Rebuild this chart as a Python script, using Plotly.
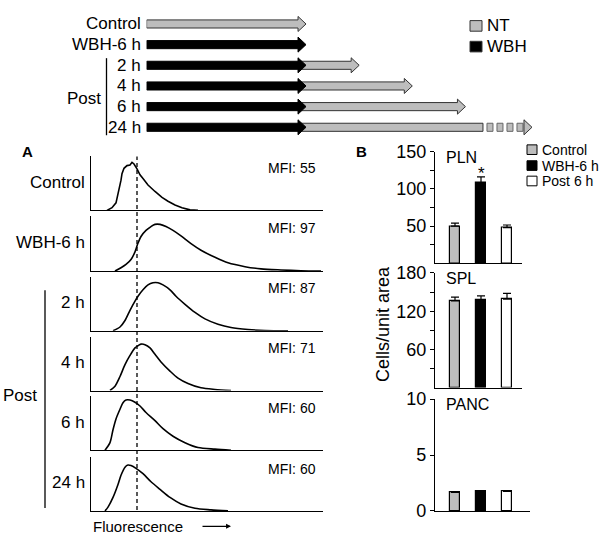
import plotly.graph_objects as go

# ---------------- DATA ----------------
# Schematic (top): treatment timeline, hours
sched_rows = ["Control", "WBH-6 h", "2 h", "4 h", "6 h", "24 h"]
wbh_hours = [0, 6, 6, 6, 6, 6]          # black (WBH) duration
nt_hours = [6, 0, 2, 4, 6, 24]          # gray (NT) duration after WBH
broken_display_hours = 6.66             # 24 h arrow drawn broken after this many hours
nt_legend = ["NT", "WBH"]

# Panel A: flow histograms (fluorescence channel, % of max)
hist_labels = ["Control", "WBH-6 h", "2 h", "4 h", "6 h", "24 h"]
mfi_values = [55, 97, 87, 71, 60, 60]
ctrl_x = [16, 21, 25, 27, 28, 30, 31, 33, 36, 39, 41, 43, 46, 49, 52, 57, 64, 71, 77, 84, 91, 99, 107]
ctrl_y = [0, 5, 14, 29, 41, 56, 68, 78, 83, 84, 89, 86, 77, 66, 59, 47, 35, 24, 17, 10, 5, 1, 0]
wbh_x = [24, 30, 35, 40, 44, 47, 50, 55, 60, 64, 69, 75, 82, 90, 100, 110, 124, 137, 154, 170, 190, 210, 230]
wbh_y = [0, 6, 12, 21, 35, 51, 63, 74, 81, 85, 85, 81, 74, 64, 50, 38, 25, 15, 8, 4, 2, 0.6, 0]
p2_x = [22, 29, 34, 39, 44, 47, 52, 57, 62, 67, 72, 79, 85, 94, 104, 114, 127, 140, 157, 174, 197]
p2_y = [0, 7, 19, 38, 55, 64, 76, 85, 89, 89, 85, 76, 64, 49, 34, 22, 12, 6, 2.4, 0.6, 0]
p4_x = [19, 24, 29, 34, 39, 44, 47, 50, 54, 59, 64, 70, 79, 87, 97, 110, 124, 140]
p4_y = [0, 8, 26, 48, 65, 79, 83, 86, 85, 79, 67, 53, 36, 23, 13, 5, 2, 0]
p6_x = [14, 19, 22, 25, 29, 32, 35, 39, 44, 49, 55, 64, 72, 82, 94, 107, 124, 140]
p6_y = [0, 14, 38, 58, 76, 88, 93, 93, 89, 82, 70, 55, 40, 26, 14, 5, 2, 0]
p24_x = [14, 17, 22, 27, 30, 34, 37, 40, 45, 52, 60, 69, 79, 90, 104, 120, 137]
p24_y = [0, 7, 25, 49, 66, 81, 85, 84, 79, 69, 54, 40, 25, 13, 5, 2, 0]
hist_x = [ctrl_x, wbh_x, p2_x, p4_x, p6_x, p24_x]
hist_y = [ctrl_y, wbh_y, p2_y, p4_y, p6_y, p24_y]
ref_channel = 46   # dashed reference line

# Panel B: cells / unit area
groups = ["Control", "WBH-6 h", "Post 6 h"]
tissues = ["PLN", "SPL", "PANC"]
pln_mean = [50, 108, 48]
pln_err = [4, 8, 3.5]
spl_mean = [136, 138, 139]
spl_err = [6, 6, 9]
panc_mean = [1.65, 1.74, 1.74]
panc_err = [0.05, 0.05, 0.05]
bar_means = [pln_mean, spl_mean, panc_mean]
bar_errs = [pln_err, spl_err, panc_err]
y_max = [150, 180, 10]
y_major = [[50, 100, 150], [60, 120, 180], [0, 5, 10]]
y_minor = [[25, 75, 125], [30, 90, 150], []]

# ---------------- STYLE ----------------
W, H = 600, 545
FONT = "Liberation Sans, Arial, Helvetica, sans-serif"
GRAY = "#bdbdbd"
def PX(px): return px / W
def PY(py): return 1 - py / H

fig = go.Figure()
ann = []
shapes = []
lay = {}

# ---------- schematic ----------
px_per_h = 26.57
row_px0, row_step = 14.5, 21.45
sx0, sx1 = 146.6, 560
sy1 = 136
lay["xaxis"] = dict(domain=[PX(sx0), PX(sx1)], range=[0, (sx1 - sx0) / px_per_h],
                    visible=False, fixedrange=True)
lay["yaxis"] = dict(domain=[PY(sy1), PY(0)],
                    range=[(sy1 - row_px0) / row_step, -row_px0 / row_step],
                    visible=False, fixedrange=True)
body = 4.2 / row_step
headh = 7.8 / row_step
headl = 8.0 / px_per_h

def arrow(x0, x1, yc, head=True):
    xb = x1 - headl if head else x1
    xs = [x0, xb, xb, x1, xb, xb, x0, x0]
    ys = [yc - body, yc - body, yc - headh, yc, yc + headh, yc + body, yc + body, yc - body]
    if not head:
        xs = [x0, x1, x1, x0, x0]
        ys = [yc - body, yc - body, yc + body, yc + body, yc - body]
    return xs, ys

def poly(xs, ys, fill, line):
    fig.add_trace(go.Scatter(x=xs, y=ys, xaxis="x", yaxis="y", mode="lines", fill="toself",
                             fillcolor=fill, line=dict(color=line, width=1), hoverinfo="skip"))

for i, lab in enumerate(sched_rows):
    start = wbh_hours[i]
    dur = nt_hours[i]
    if dur > 0:
        s = start - headl if start > 0 else 0
        if dur > 12:
            xb_end = start + broken_display_hours
            xs, ys = arrow(s, xb_end, i, head=False)
            poly(xs, ys, GRAY, "#333")
            dash_w, gap = 6 / px_per_h, 4 / px_per_h
            d0 = xb_end + gap
            for k in range(4):
                xs, ys = arrow(d0 + k * (dash_w + gap), d0 + k * (dash_w + gap) + dash_w, i, head=False)
                poly(xs, ys, GRAY, "#666")
            hb = d0 + 4 * (dash_w + gap) - gap + 1 / px_per_h
            tip = hb + headl
            xs = [hb, tip, hb, hb]
            ys = [i - headh, i, i + headh, i - headh]
            poly(xs, ys, GRAY, "#333")
        else:
            xs, ys = arrow(s, start + dur, i)
            poly(xs, ys, GRAY, "#333")
    if start > 0:
        xs, ys = arrow(0, start, i)
        poly(xs, ys, "black", "black")
    ann.append(dict(text=lab, x=PX(142.5), y=PY(row_px0 + i * row_step), xref="paper", yref="paper",
                    xanchor="right", yanchor="middle", showarrow=False, font=dict(size=17)))

ann.append(dict(text="Post", x=PX(84), y=PY(92), xref="paper", yref="paper", xanchor="center",
                yanchor="middle", showarrow=False, font=dict(size=17)))
shapes.append(dict(type="line", xref="paper", yref="paper", x0=PX(106.5), x1=PX(106.5), y0=PY(50),
                   y1=PY(130), line=dict(color="black", width=1.3)))
# schematic legend
for j, (lab, col, yc) in enumerate(zip(nt_legend, [GRAY, "black"], [16.5, 38])):
    shapes.append(dict(type="rect", xref="paper", yref="paper", x0=PX(470), x1=PX(482),
                       y0=PY(yc + 5.5), y1=PY(yc - 5.5), fillcolor=col, line=dict(color="#333", width=1)))
    ann.append(dict(text=lab, x=PX(485), y=PY(yc), xref="paper", yref="paper", xanchor="left",
                    yanchor="middle", showarrow=False, font=dict(size=17)))

# ---------- panel A histograms ----------
tops = [152, 214, 277, 339, 401, 464]
bases = [208, 271, 333, 395, 457, 520]
hx0, hx1 = 91, 323
for i in range(6):
    n = i + 2
    xa, ya = f"x{n}", f"y{n}"
    lay[f"xaxis{n}"] = dict(domain=[PX(hx0), PX(hx1)], range=[0, hx1 - hx0], showline=True,
                            linecolor="black", linewidth=1.4, showticklabels=False, ticks="",
                            showgrid=False, zeroline=False, anchor=ya, fixedrange=True)
    lay[f"yaxis{n}"] = dict(domain=[PY(bases[i]), PY(tops[i])], range=[0, 100], showline=True,
                            linecolor="black", linewidth=1.4, showticklabels=False, ticks="",
                            showgrid=False, zeroline=False, anchor=xa, fixedrange=True)
    fig.add_trace(go.Scatter(x=hist_x[i], y=hist_y[i], xaxis=xa, yaxis=ya, mode="lines",
                             line=dict(color="black", width=1.6,
                                       shape="linear" if i == 0 else "spline", smoothing=0.8),
                             hoverinfo="skip"))
    ann.append(dict(text=f"MFI: {mfi_values[i]}", x=PX(318), y=PY(tops[i] + 12), xref="paper",
                    yref="paper", xanchor="right", yanchor="middle", showarrow=False,
                    font=dict(size=14)))
    ann.append(dict(text=hist_labels[i], x=PX(87), y=PY((tops[i] + bases[i]) / 2 - 1), xref="paper",
                    yref="paper", xanchor="right", yanchor="middle", showarrow=False,
                    font=dict(size=17)))

shapes.append(dict(type="line", xref="x2", yref="paper", x0=ref_channel, x1=ref_channel,
                   y0=PY(519), y1=PY(152), line=dict(color="black", width=1.3, dash="4px,3px")))
shapes.append(dict(type="line", xref="paper", yref="paper", x0=PX(45), x1=PX(45), y0=PY(291),
                   y1=PY(517), line=dict(color="black", width=1.3)))
ann.append(dict(text="Post", x=PX(20), y=PY(400), xref="paper", yref="paper", xanchor="center",
                yanchor="middle", showarrow=False, font=dict(size=17)))
ann.append(dict(text="<b>A</b>", x=PX(27), y=PY(147), xref="paper", yref="paper", xanchor="center",
                yanchor="middle", showarrow=False, font=dict(size=15)))
ann.append(dict(text="Fluorescence", x=PX(91), y=PY(536), xref="paper", yref="paper",
                xanchor="left", yanchor="middle", showarrow=False, font=dict(size=15)))
ann.append(dict(text="", x=PX(231), y=PY(536), xref="paper", yref="paper", ax=-30, ay=0,
                axref="pixel", ayref="pixel", showarrow=True, arrowhead=2,
                arrowsize=0.9, arrowwidth=1.1, arrowcolor="black"))

# ---------- panel B bars ----------
btops = [147, 273, 404]
bbases = [263, 392, 520]
bx0, bx1 = 435, 522
colors = [GRAY, "black", "white"]
cat_px = 26.0
for t in range(3):
    n = t + 8
    xa, ya = f"x{n}", f"y{n}"
    lo = -(455 - bx0) / cat_px
    hi = 2 + (bx1 - 507) / cat_px
    lay[f"xaxis{n}"] = dict(domain=[PX(bx0), PX(bx1 + (8 if t == 2 else 0))],
                            range=[lo, hi + (8 / cat_px if t == 2 else 0)],
                            showline=True, linecolor="black", linewidth=1.4, showticklabels=False,
                            ticks="", showgrid=False, zeroline=False, anchor=ya, fixedrange=True)
    tv = sorted(y_major[t] + y_minor[t])
    tt = [str(v) if v in y_major[t] else "" for v in tv]
    lay[f"yaxis{n}"] = dict(domain=[PY(bbases[t]), PY(btops[t])], range=[0, y_max[t]],
                            showline=True, linecolor="black", linewidth=1.4, ticks="outside",
                            ticklen=4, tickwidth=1, tickcolor="black", tickmode="array",
                            tickvals=tv, ticktext=tt, tickfont=dict(size=18), showgrid=False,
                            zeroline=False, anchor=xa, fixedrange=True)
    fig.add_trace(go.Bar(x=[0, 1, 2], y=bar_means[t], xaxis=xa, yaxis=ya, width=0.42,
                         marker=dict(color=colors, line=dict(color="black", width=1.2)),
                         error_y=dict(type="data", array=bar_errs[t], arrayminus=[0, 0, 0],
                                      symmetric=False, color="black", thickness=1.2, width=4),
                         hoverinfo="skip"))
    ann.append(dict(text=tissues[t], x=PX(444), y=PY(btops[t] + 6), xref="paper", yref="paper",
                    xanchor="left", yanchor="middle", showarrow=False, font=dict(size=16)))

ann.append(dict(text="*", x=1, y=pln_mean[1] + pln_err[1], xref="x8", yref="y8", xanchor="center",
                yanchor="bottom", yshift=-8, showarrow=False, font=dict(size=17)))
ann.append(dict(text="<b>B</b>", x=PX(361), y=PY(147), xref="paper", yref="paper", xanchor="center",
                yanchor="middle", showarrow=False, font=dict(size=15)))
ann.append(dict(text="Cells/unit area", x=PX(383), y=PY(326), xref="paper", yref="paper",
                textangle=-90, xanchor="center", yanchor="middle", showarrow=False,
                font=dict(size=18)))
for j, (g, c) in enumerate(zip(groups, colors)):
    yc = [145, 161.5, 177.5][j]
    shapes.append(dict(type="rect", xref="paper", yref="paper", x0=PX(527), x1=PX(537),
                       y0=PY(yc + 5), y1=PY(yc - 5), fillcolor=c, line=dict(color="black", width=1)))
    ann.append(dict(text=g, x=PX(540), y=PY(yc), xref="paper", yref="paper", xanchor="left",
                    yanchor="middle", showarrow=False, font=dict(size=14)))

fig.update_layout(width=W, height=H, margin=dict(l=0, r=0, t=0, b=0), showlegend=False,
                  paper_bgcolor="white", plot_bgcolor="white",
                  font=dict(family=FONT, color="black"), annotations=ann, shapes=shapes,
                  bargap=0, **lay)
fig.write_html("out.html", config={"displayModeBar": False},
               post_script="document.body.style.margin='0';document.body.style.overflow='hidden';")
